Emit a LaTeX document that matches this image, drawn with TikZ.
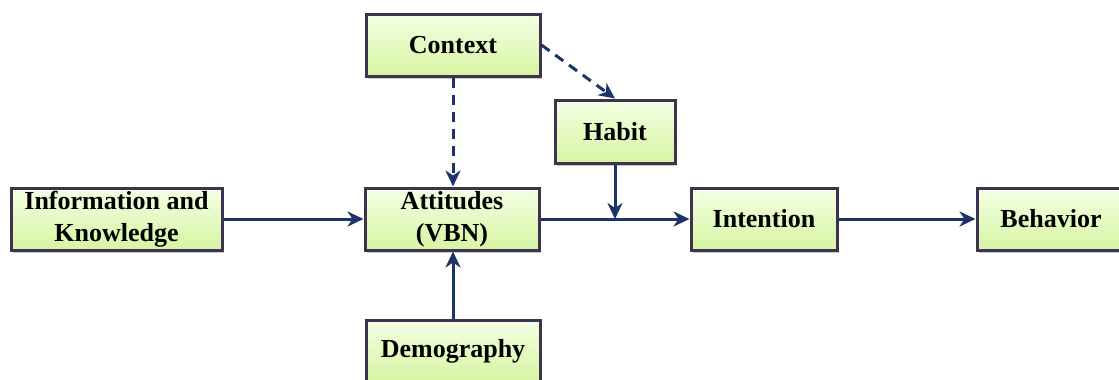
\documentclass[tikz,border=0pt]{standalone}
\usepackage{fontspec}
\setmainfont{Liberation Serif}
\usetikzlibrary{arrows.meta,shadows}
\definecolor{boxline}{HTML}{3D3350}
\definecolor{boxtop}{HTML}{F4FFE4}
\definecolor{boxbot}{HTML}{D6F5A2}
\definecolor{arrowc}{HTML}{1C3468}
\tikzset{
  box/.style={rectangle, draw=boxline, line width=3pt, top color=boxtop, bottom color=boxbot,
    inner sep=0pt, align=center, font=\fontsize{26}{32}\selectfont\bfseries, text=black,
    drop shadow={shadow xshift=2pt, shadow yshift=-3pt, opacity=0.35, fill=black!60}},
  link/.style={draw=arrowc, line width=3pt, -{Stealth[length=16pt,width=15pt,inset=5pt]}},
  dlink/.style={link, dash pattern=on 10pt off 7pt}
}
\begin{document}
\begin{tikzpicture}[x=1pt,y=-1pt]
  \useasboundingbox (0,0) rectangle (1119,380);
  \fill[white] (0,0) rectangle (1119,380);
  % boxes
  \node[box, minimum width=174pt, minimum height=62pt] (ctx) at (453,45) {Context};
  \node[box, minimum width=120pt, minimum height=63pt] (hab) at (615,131.5) {Habit};
  \node[box, minimum width=211pt, minimum height=62pt] (info) at (116.5,219) {Information and\\Knowledge};
  \node[box, minimum width=174pt, minimum height=62pt] (att) at (452,219) {Attitudes\\(VBN)};
  \node[box, minimum width=146pt, minimum height=62pt] (int) at (764,219) {Intention};
  \node[box, minimum width=148pt, minimum height=62pt] (beh) at (1051,219) {Behavior};
  \node[box, minimum width=174pt, minimum height=62pt] (dem) at (453,351) {Demography};
  % connectors
  \draw[dlink] (ctx.south) -- (ctx.south |- att.north);
  \draw[dlink] (ctx.east) -- (hab.north);
  \draw[link] (info.east) -- (att.west);
  \draw[link] (dem.north) -- (dem.north |- att.south);
  \draw[link] (att.east) -- (int.west);
  \coordinate (j) at (hab.south |- int.west);
  \draw[link] (hab.south) -- (j);
  \draw[link] (int.east) -- (beh.west);
\end{tikzpicture}
\end{document}
